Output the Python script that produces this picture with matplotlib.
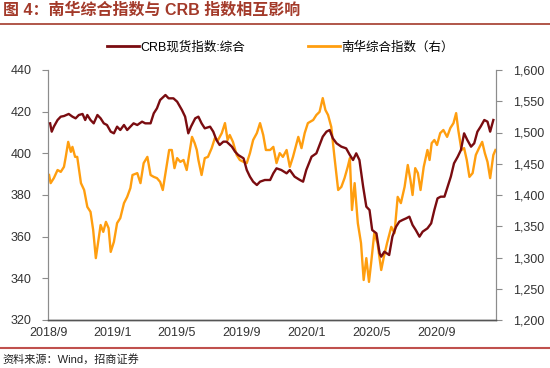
import numpy as np
import pandas as pd
import matplotlib
matplotlib.use("Agg")
from matplotlib import pyplot as plt
from matplotlib.lines import Line2D
from matplotlib.ticker import FuncFormatter, MultipleLocator

plt.rcParams['font.family'] = ['Liberation Sans', 'Noto Sans CJK SC', 'DejaVu Sans']

# CRB spot index (left axis)
crb_dates = [
    '2018-09-05', '2018-09-08', '2018-09-12', '2018-09-19', '2018-09-25', '2018-10-01',
    '2018-10-10', '2018-10-17', '2018-10-23', '2018-10-29', '2018-11-05', '2018-11-10',
    '2018-11-14', '2018-11-20', '2018-11-26', '2018-12-03', '2018-12-09', '2018-12-15',
    '2018-12-21', '2018-12-28', '2019-01-03', '2019-01-09', '2019-01-15', '2019-01-22',
    '2019-01-28', '2019-02-03', '2019-02-09', '2019-02-16', '2019-02-25', '2019-03-03',
    '2019-03-13', '2019-03-19', '2019-03-25', '2019-03-31', '2019-04-10', '2019-04-16',
    '2019-04-25', '2019-05-02', '2019-05-11', '2019-05-17', '2019-05-23', '2019-05-28',
    '2019-06-05', '2019-06-11', '2019-06-17', '2019-06-23', '2019-07-03', '2019-07-09',
    '2019-07-15', '2019-07-21', '2019-07-28', '2019-08-03', '2019-08-13', '2019-08-19',
    '2019-08-25', '2019-09-04', '2019-09-10', '2019-09-16', '2019-09-22', '2019-09-29',
    '2019-10-05', '2019-10-14', '2019-10-24', '2019-10-30', '2019-11-05', '2019-11-14',
    '2019-11-24', '2019-11-30', '2019-12-09', '2019-12-19', '2019-12-25', '2019-12-31',
    '2020-01-10', '2020-01-19', '2020-01-25', '2020-01-31', '2020-02-07', '2020-02-13',
    '2020-02-19', '2020-02-26', '2020-03-06', '2020-03-15', '2020-03-22', '2020-03-28',
    '2020-04-03', '2020-04-09', '2020-04-16', '2020-04-22', '2020-04-28', '2020-05-03',
    '2020-05-11', '2020-05-17', '2020-05-20', '2020-05-26', '2020-06-04', '2020-06-10',
    '2020-06-17', '2020-06-23', '2020-06-29', '2020-07-06', '2020-07-12', '2020-07-18',
    '2020-07-24', '2020-07-31', '2020-08-06', '2020-08-15', '2020-08-22', '2020-08-28',
    '2020-09-03', '2020-09-09', '2020-09-16', '2020-09-22', '2020-09-28', '2020-10-04',
    '2020-10-11', '2020-10-17', '2020-10-23', '2020-10-29', '2020-11-05', '2020-11-11',
    '2020-11-17', '2020-11-23', '2020-11-30', '2020-12-06', '2020-12-11', '2020-12-17',
]
crb_values = [
    414.4, 410.4, 412.8, 416.0, 417.6, 417.9, 418.9, 417.6, 416.8, 418.4, 418.9, 416.0,
    418.4, 416.0, 414.4, 418.4, 416.8, 414.4, 413.6, 410.4, 409.6, 412.8, 411.2, 413.6,
    411.2, 412.8, 414.4, 413.6, 415.2, 414.4, 414.4, 419.2, 421.6, 425.6, 428.0, 426.4,
    426.4, 424.8, 420.8, 417.6, 409.6, 412.8, 416.8, 417.6, 414.4, 412.0, 412.8, 410.4,
    406.4, 404.0, 405.6, 405.6, 403.2, 400.8, 399.2, 397.6, 392.0, 388.8, 386.4, 384.8,
    386.4, 387.2, 387.2, 390.4, 392.8, 392.0, 390.4, 392.0, 388.8, 387.2, 386.4, 392.0,
    398.4, 400.0, 404.0, 408.0, 410.4, 411.2, 407.2, 404.8, 403.2, 402.4, 399.2, 396.8,
    400.0, 396.8, 384.0, 374.4, 372.8, 363.2, 361.6, 352.0, 350.4, 352.8, 351.2, 360.0,
    364.8, 367.2, 368.0, 368.8, 369.6, 365.6, 363.2, 360.0, 362.4, 364.0, 366.4, 372.8,
    378.4, 379.2, 379.2, 384.0, 388.8, 395.2, 398.4, 401.6, 409.6, 406.4, 403.2, 404.8,
    410.4, 412.8, 416.0, 415.2, 410.4, 416.0,
]

# Nanhua composite index (right axis)
nh_dates = [
    '2018-09-03', '2018-09-06', '2018-09-12', '2018-09-19', '2018-09-25', '2018-10-01',
    '2018-10-04', '2018-10-09', '2018-10-14', '2018-10-17', '2018-10-22', '2018-10-26',
    '2018-11-02', '2018-11-08', '2018-11-14', '2018-11-20', '2018-11-25', '2018-11-30',
    '2018-12-05', '2018-12-09', '2018-12-14', '2018-12-19', '2018-12-24', '2018-12-28',
    '2019-01-03', '2019-01-09', '2019-01-15', '2019-01-22', '2019-01-28', '2019-02-03',
    '2019-02-07', '2019-02-16', '2019-02-22', '2019-02-28', '2019-03-07', '2019-03-13',
    '2019-03-19', '2019-03-25', '2019-03-31', '2019-04-05', '2019-04-10', '2019-04-17',
    '2019-04-22', '2019-04-27', '2019-05-02', '2019-05-08', '2019-05-14', '2019-05-20',
    '2019-05-23', '2019-05-30', '2019-06-04', '2019-06-08', '2019-06-11', '2019-06-17',
    '2019-06-23', '2019-06-29', '2019-07-06', '2019-07-12', '2019-07-18', '2019-07-25',
    '2019-07-31', '2019-08-05', '2019-08-09', '2019-08-15', '2019-08-22', '2019-08-28',
    '2019-09-04', '2019-09-10', '2019-09-16', '2019-09-22', '2019-09-29', '2019-10-05',
    '2019-10-11', '2019-10-16', '2019-10-24', '2019-10-30', '2019-11-05', '2019-11-11',
    '2019-11-17', '2019-11-24', '2019-11-30', '2019-12-06', '2019-12-16', '2019-12-22',
    '2019-12-28', '2020-01-03', '2020-01-13', '2020-01-19', '2020-01-25', '2020-01-31',
    '2020-02-05', '2020-02-10', '2020-02-16', '2020-02-22', '2020-02-29', '2020-03-06',
    '2020-03-12', '2020-03-18', '2020-03-22', '2020-03-26', '2020-03-31', '2020-04-06',
    '2020-04-12', '2020-04-17', '2020-04-22', '2020-04-27', '2020-05-01', '2020-05-07',
    '2020-05-13', '2020-05-20', '2020-05-25', '2020-05-31', '2020-06-08', '2020-06-14',
    '2020-06-20', '2020-06-26', '2020-07-03', '2020-07-09', '2020-07-14', '2020-07-18',
    '2020-07-23', '2020-07-28', '2020-08-02', '2020-08-08', '2020-08-15', '2020-08-19',
    '2020-08-23', '2020-08-28', '2020-09-02', '2020-09-08', '2020-09-14', '2020-09-21',
    '2020-09-27', '2020-10-03', '2020-10-08', '2020-10-12', '2020-10-18', '2020-10-23',
    '2020-10-28', '2020-11-02', '2020-11-08', '2020-11-14', '2020-11-20', '2020-11-26',
    '2020-12-01', '2020-12-06', '2020-12-11', '2020-12-17', '2020-12-21',
]
nh_values = [
    1432, 1419, 1427, 1440, 1437, 1445, 1459, 1485, 1469, 1477, 1461, 1461,
    1419, 1408, 1381, 1373, 1344, 1299, 1328, 1352, 1341, 1357, 1347, 1309,
    1325, 1355, 1363, 1387, 1397, 1411, 1432, 1435, 1419, 1451, 1461, 1432,
    1429, 1427, 1421, 1408, 1435, 1472, 1472, 1443, 1459, 1453, 1456, 1440,
    1456, 1493, 1483, 1472, 1456, 1432, 1459, 1461, 1475, 1491, 1488, 1499,
    1515, 1488, 1496, 1485, 1464, 1456, 1453, 1451, 1467, 1488, 1499, 1515,
    1496, 1472, 1472, 1477, 1451, 1467, 1461, 1472, 1445, 1461, 1493, 1475,
    1499, 1515, 1520, 1528, 1533, 1555, 1536, 1528, 1509, 1461, 1408, 1413,
    1427, 1445, 1459, 1376, 1419, 1355, 1323, 1264, 1299, 1261, 1291, 1339,
    1323, 1280, 1301, 1323, 1349, 1339, 1397, 1387, 1413, 1448, 1424, 1400,
    1443, 1435, 1408, 1445, 1472, 1456, 1483, 1488, 1480, 1499, 1504, 1493,
    1507, 1515, 1531, 1504, 1472, 1475, 1456, 1429, 1435, 1464, 1475, 1485,
    1467, 1453, 1427, 1464, 1472,
]

tick_dates = ['2018-09-01', '2019-01-01', '2019-05-01', '2019-09-01',
              '2020-01-01', '2020-05-01', '2020-09-01']
tick_labels = ['2018/9', '2019/1', '2019/5', '2019/9', '2020/1', '2020/5', '2020/9']

crb_label = 'CRB现货指数:综合'
nh_label = '南华综合指数（右）'
title = '图 4：南华综合指数与 CRB 指数相互影响'
source = '资料来源：Wind，招商证券'

crb_color = '#7A0C10'
nh_color = '#FF9E0F'

fig = plt.figure(figsize=(5.5, 3.68), dpi=100)
ax = fig.add_axes([48 / 550, 1 - 320 / 368, 448 / 550, 250 / 368])
ax2 = ax.twinx()

ax.plot(pd.to_datetime(crb_dates), crb_values, color=crb_color, lw=1.7, zorder=3)
ax2.plot(pd.to_datetime(nh_dates), nh_values, color=nh_color, lw=1.7)
ax.set_zorder(ax2.get_zorder() + 1)
ax.patch.set_visible(False)

ax.set_xlim(pd.Timestamp('2018-09-01'), pd.Timestamp('2020-12-22'))
ax.set_ylim(320, 440)
ax2.set_ylim(1200, 1600)
ax.yaxis.set_major_locator(MultipleLocator(20))
ax2.yaxis.set_major_locator(MultipleLocator(50))
ax2.yaxis.set_major_formatter(FuncFormatter(lambda v, p: f'{v:,.0f}'))

ax.set_xticks(pd.to_datetime(tick_dates))
ax.set_xticklabels(tick_labels)

# axes styling
for a in (ax, ax2):
    a.spines['top'].set_visible(False)
    a.spines['left'].set_color('#8c8c8c')
    a.spines['right'].set_color('#8c8c8c')
    a.spines['bottom'].set_color('#555555')
    a.spines['bottom'].set_linewidth(1.0)
ax.tick_params(axis='y', length=4, color='#8c8c8c', labelsize=9, labelcolor='#333333', pad=8)
ax2.tick_params(axis='y', length=4, color='#8c8c8c', labelsize=9, labelcolor='#333333', pad=8)
ax.tick_params(axis='x', length=0, labelsize=9, labelcolor='#333333', pad=5)

# legend
handles = [Line2D([], [], color=crb_color, lw=2.0), Line2D([], [], color=nh_color, lw=2.0)]
fig.legend(handles, [crb_label, nh_label], loc='center', bbox_to_anchor=(0.51, 0.872),
           ncol=2, frameon=False, fontsize=9, handlelength=2.6, handletextpad=0.1,
           columnspacing=5.0)

# title, rules and source
fig.text(0.006, 0.972, title, fontsize=11.5, fontweight='bold', color='#A33A2A', va='center')
fig.add_artist(Line2D([0, 1], [1 - 24 / 368] * 2, color='#A33A2A', lw=1.2))
fig.add_artist(Line2D([0, 1], [1 - 348 / 368] * 2, color='#C0504D', lw=1.5))
fig.text(0.004, 1 - 359 / 368, source, fontsize=8, color='#222222', va='center')

fig.savefig('out.png', dpi=100)
